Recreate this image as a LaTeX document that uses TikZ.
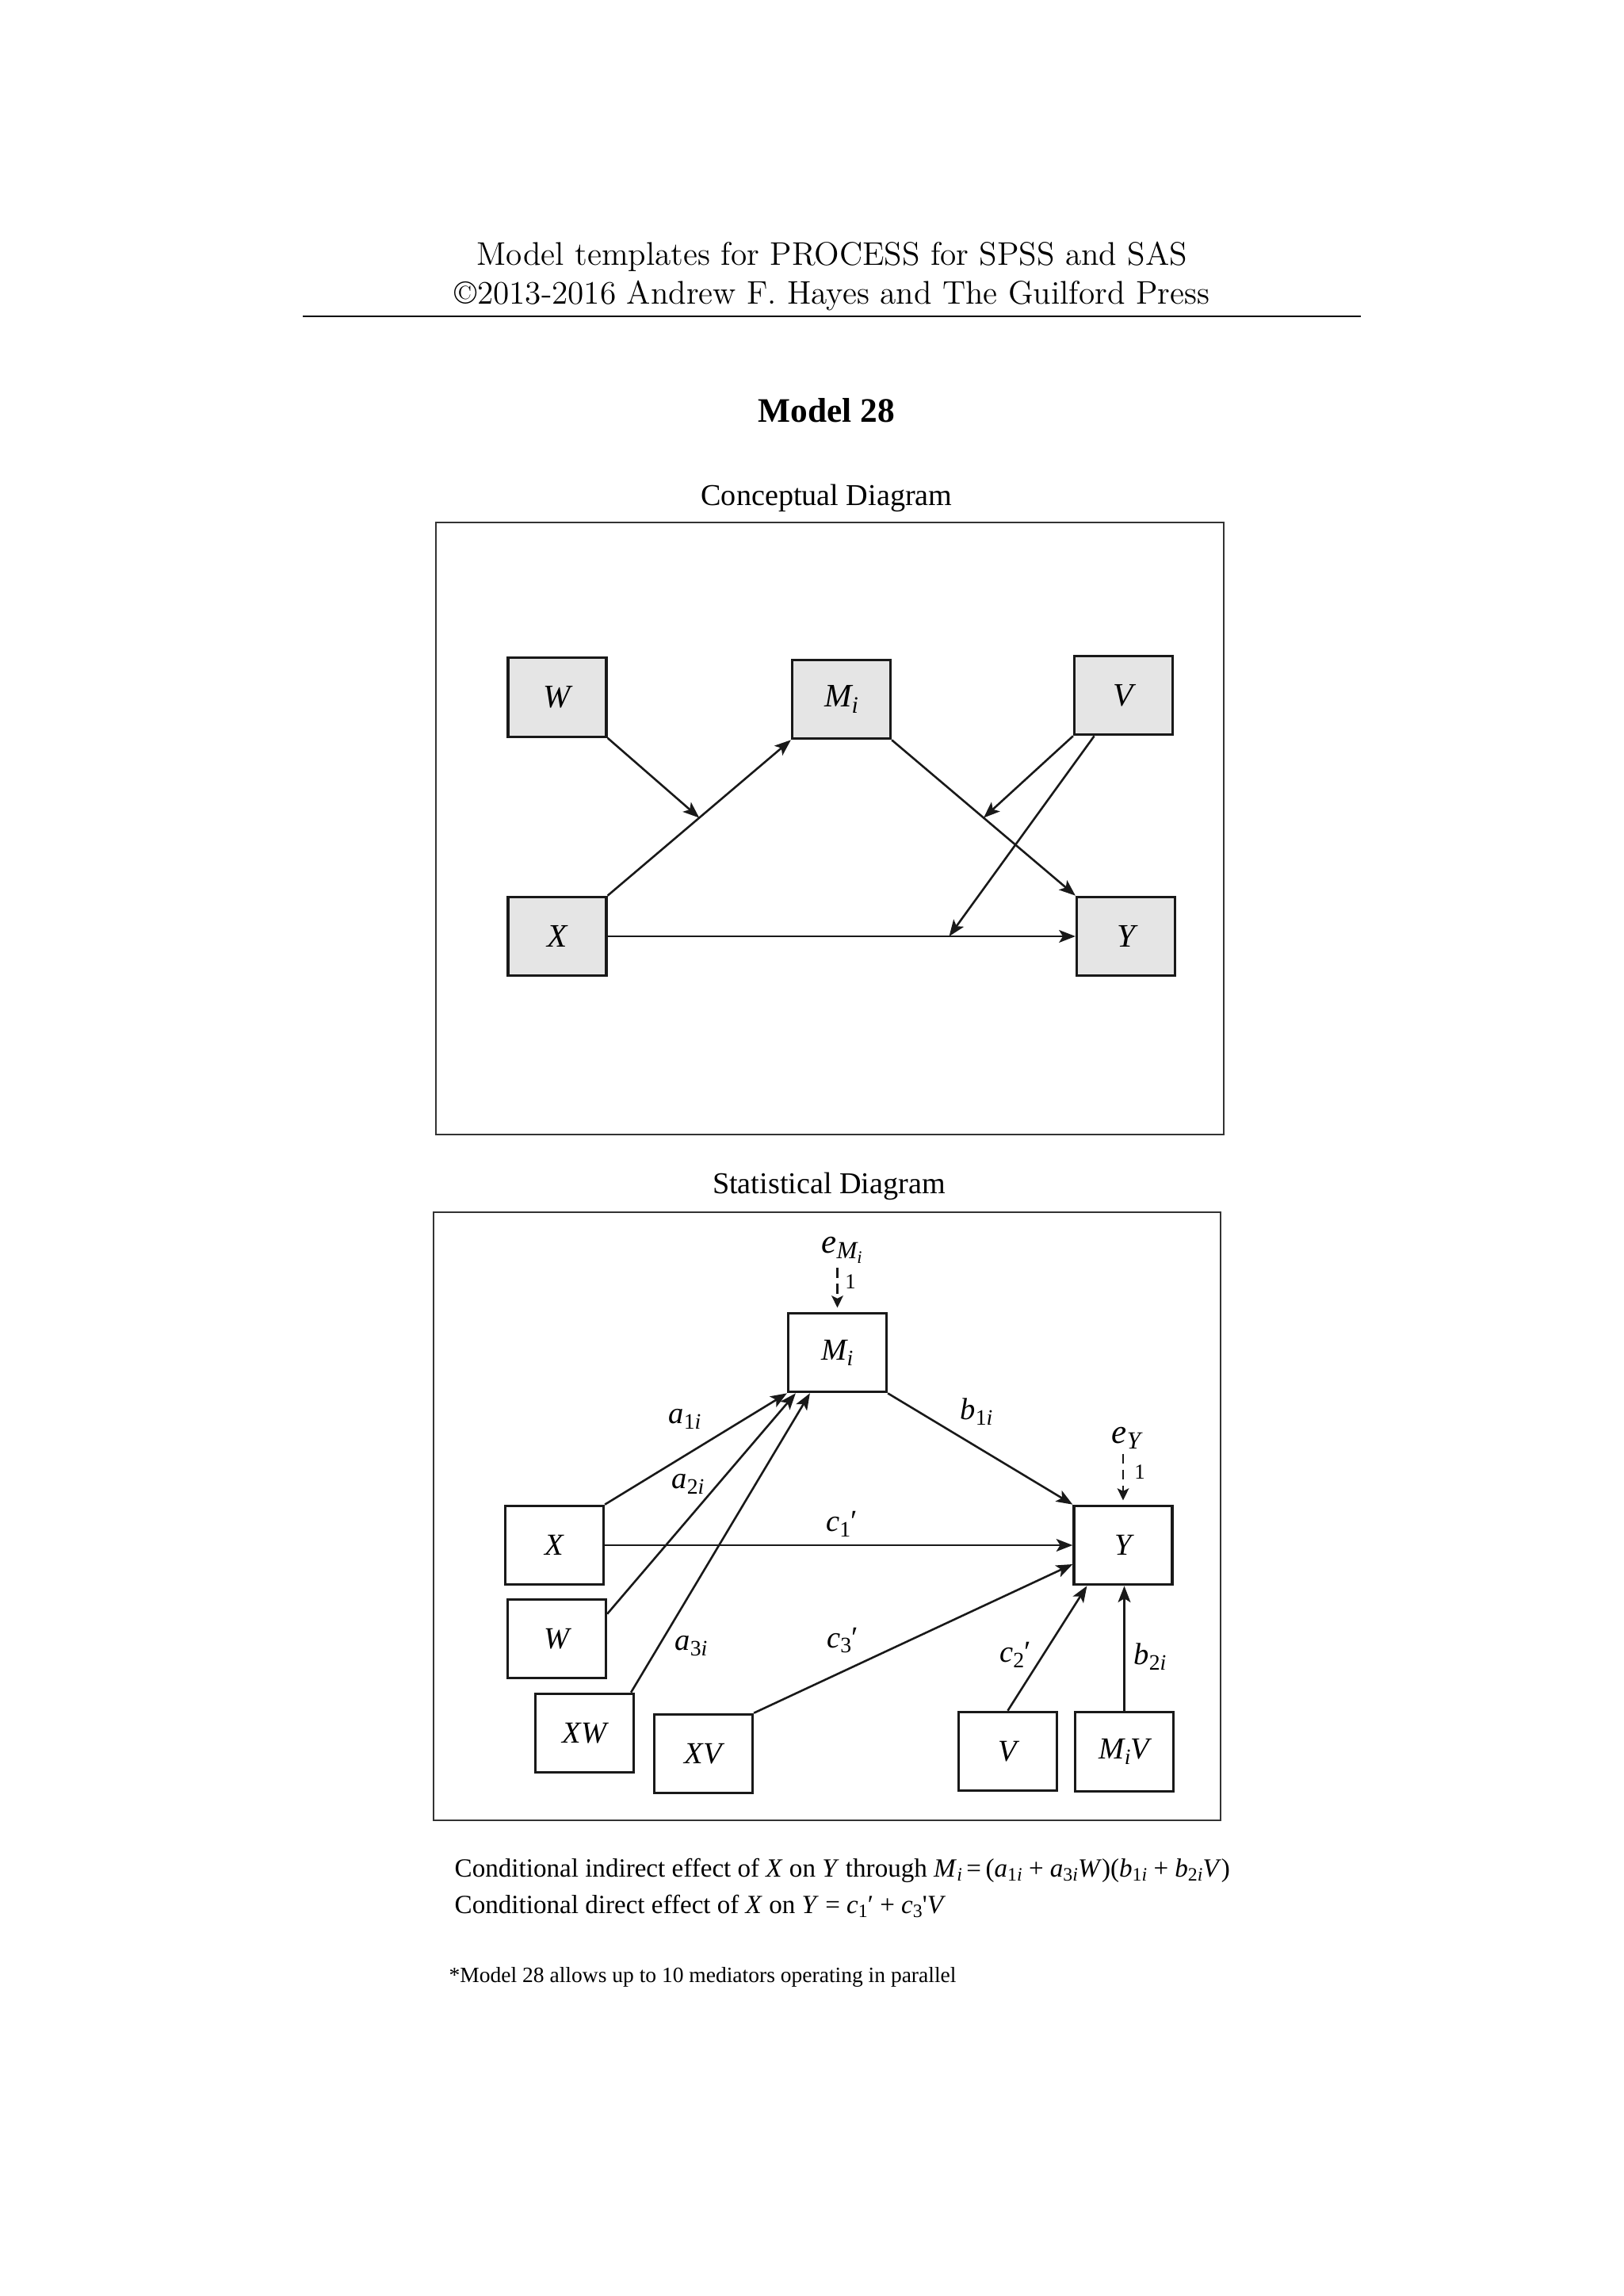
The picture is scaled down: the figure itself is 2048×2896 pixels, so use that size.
\documentclass[tikz,border=0pt]{standalone}
\usepackage{fontspec}
\newfontfamily\tnr{Liberation Serif}
\usetikzlibrary{arrows.meta,calc}
\newcommand\sbx[1]{\raisebox{-0.18em}{\scalebox{0.72}{#1}}}
\newcommand\subni[1]{\sbx{{\upshape #1}i}}
\tikzset{
  cbox/.style={draw=black!90, line width=0.95pt, fill=black!10, minimum width=36.04pt, minimum height=28.9pt, inner sep=0pt, font=\tnr\itshape\fontsize{12}{14}\selectfont},
  sbox/.style={draw=black!90, line width=0.95pt, fill=white, minimum width=36.04pt, minimum height=28.9pt, inner sep=0pt, font=\tnr\itshape\fontsize{11.2}{13}\selectfont},
  arr/.style={draw=black!90, line width=0.75pt, -{Stealth[length=6pt,width=4.6pt,inset=1.4pt]}},
  dasharr/.style={draw=black!90, line width=0.85pt, dash pattern=on 3.6pt off 2.2pt, -{Stealth[length=4.4pt,width=4.2pt,inset=1pt]}},
  lab/.style={inner sep=0pt, font=\tnr\itshape\fontsize{11.2}{13}\selectfont},
  one/.style={inner sep=0pt, font=\tnr\fontsize{7.8}{8}\selectfont},
  frame/.style={draw=black!80, line width=0.6pt},
  title/.style={anchor=base, inner sep=0pt, font=\tnr\fontsize{11.1}{13}\selectfont},
  body/.style={anchor=base west, inner sep=0pt, font=\tnr\fontsize{9.62}{12}\selectfont},
}
\begin{document}
\begin{tikzpicture}[x=0.290664pt, y=-0.290664pt]
\useasboundingbox (0,0) rectangle (2048,2896);
\fill[white] (0,0) rectangle (2048,2896);

% header
\node[anchor=base, inner sep=0pt, font=\fontsize{12}{14.5}\selectfont] (h1) at (1050,334) {Model templates for PROCESS for SPSS and SAS};
\node[anchor=base, inner sep=0pt, font=\fontsize{12}{14.5}\selectfont] (h2) at (1050,383) {\textcopyright2013-2016 Andrew F. Hayes and The Guilford Press};
\draw[line width=0.5pt] (382,399) -- (1717,399);

\node[anchor=base, inner sep=0pt, font=\tnr\bfseries\fontsize{12.6}{15}\selectfont] (mt) at (1043,532) {Model 28};
\node[title] (ct) at (1043,637) {Conceptual Diagram};
\node[title] (st) at (1046,1505) {Statistical Diagram};

% conceptual diagram
\draw[frame] (550,659) rectangle (1544,1431);
\node[cbox] (cW) at (703,879.5) {W};
\node[cbox] (cM) at (1061.5,882) {M\sbx{i}};
\node[cbox] (cV) at (1417.5,877) {V};
\node[cbox] (cX) at (703,1181) {X};
\node[cbox] (cY) at (1420.5,1181) {Y};
\coordinate (cXM) at ($(cX.north east)!0.5!(cM.south west)$);
\coordinate (cMY) at ($(cM.south east)!0.5!(cY.north west)$);
\coordinate (cXY) at ($(cX.east)!0.73!(cY.west)$);
\coordinate (cVs) at ($(cV.south west)!0.21!(cV.south east)$);
\draw[arr] (cX.north east) -- (cM.south west);
\draw[arr] (cW.south east) -- (cXM);
\draw[arr] (cM.south east) -- (cY.north west);
\draw[arr] (cV.south west) -- (cMY);
\draw[arr] (cX.east) -- (cY.west);
\draw[arr] (cVs) -- (cXY);

% statistical diagram
\draw[frame] (547,1529) rectangle (1540,2296);
\node[sbox] (sM) at (1056.5,1706) {M\sbx{i}};
\node[sbox] (sX) at (699.5,1949) {X};
\node[sbox] (sW) at (702.5,2067) {W};
\node[sbox] (sXW) at (737.5,2186) {XW};
\node[sbox] (sXV) at (887.5,2212) {XV};
\node[sbox] (sV) at (1271.5,2209) {V};
\node[sbox] (sMV) at (1418.5,2209.5) {M\sbx{i}V};
\node[sbox] (sY) at (1417,1949) {Y};
\coordinate (sWo) at ($(sW.north east)+(0,20)$);
\coordinate (sMa2) at ($(sM.south west)+(11,0)$);
\coordinate (sXWo) at ($(sXW.north east)+(-5,0)$);
\coordinate (sMa3) at ($(sM.south west)+(29,0)$);
\coordinate (sYc3) at ($(sY.west)+(0,24)$);
\coordinate (sYc2) at ($(sY.south west)+(18,0)$);
\draw[arr] (sX.north east) -- (sM.south west);
\draw[arr] (sWo) -- (sMa2);
\draw[arr] (sXWo) -- (sMa3);
\draw[arr] (sM.south east) -- (sY.north west);
\draw[arr] (sX.east) -- (sY.west);
\draw[arr] (sXV.north east) -- (sYc3);
\draw[arr] (sV.north) -- (sYc2);
\draw[arr] (sMV.north) -- (sMV.north |- sY.south);

% error terms
\node[lab, anchor=base, font=\tnr\itshape\fontsize{12.5}{14}\selectfont] (eM) at (1062,1580) {e\sbx{M\sbx{i}}};
\draw[dasharr, shorten <=1.5pt, shorten >=1.5pt] (eM.south -| sM.north) -- (sM.north);
\node[one] (oM) at (1073,1617) {1};
\node[lab, anchor=base, font=\tnr\itshape\fontsize{12.5}{14}\selectfont] (eY) at (1421,1820) {e\sbx{Y}};
\draw[dasharr, shorten <=1.5pt, shorten >=1.5pt] (eY.south -| sY.north) -- (sY.north);
\node[one] (oY) at (1438,1857) {1};

% path labels
\node[lab] (la1) at (864,1790) {a\subni{1}};
\node[lab] (la2) at (868,1872) {a\subni{2}};
\node[lab] (la3) at (872,2076) {a\subni{3}};
\node[lab] (lb1) at (1232,1781) {b\subni{1}};
\node[lab] (lc1) at (1062,1922) {c\sbx{\upshape 1}{\upshape ′}};
\node[lab] (lc3) at (1063,2069) {c\sbx{\upshape 3}{\upshape ′}};
\node[lab] (lc2) at (1281,2087) {c\sbx{\upshape 2}{\upshape ′}};
\node[lab] (lb2) at (1451,2090) {b\subni{2}};

% bottom text
\node[body] (t1) at (573,2367) {Conditional indirect effect of \textit{X} on \textit{Y} through \textit{M}\sbx{\textit{i}}\,=\,(\textit{a}\sbx{1\textit{i}} + \textit{a}\sbx{3\textit{i}}\textit{W})(\textit{b}\sbx{1\textit{i}} + \textit{b}\sbx{2\textit{i}}\textit{V})};
\node[body] (t2) at (573,2413) {Conditional direct effect of \textit{X} on \textit{Y} = \textit{c}\sbx{1}′ + \textit{c}\sbx{3}\textquotesingle\textit{V}};
\node[anchor=base west, inner sep=0pt, font=\tnr\fontsize{8}{10}\selectfont] (t3) at (566,2500) {*Model 28 allows up to 10 mediators operating in parallel};
\end{tikzpicture}
\end{document}
